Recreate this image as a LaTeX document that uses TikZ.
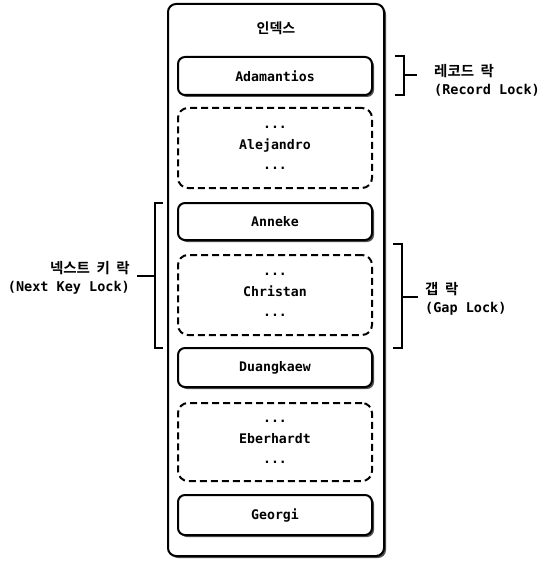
\documentclass[tikz,border=0pt]{standalone}
\usepackage{fontspec}
\setmonofont{DejaVu Sans Mono}
\newfontfamily\krfont{Noto Sans CJK KR}[BoldFont={Noto Sans CJK KR Bold}]
\usetikzlibrary{shadows}
\begin{document}
\begin{tikzpicture}[x=1pt,y=-1pt,
  shad/.style={drop shadow={shadow xshift=2pt,shadow yshift=-2pt,opacity=0.8,fill=black!85}},
  entry/.style={font=\ttfamily\bfseries\fontsize{13.2}{20.5}\selectfont, align=center, inner sep=0pt,
     minimum width=194pt, line width=2pt, line join=round},
  solidbox/.style={entry, draw, fill=white, rounded corners=7pt, shad},
  gapbox/.style={entry, draw, rounded corners=10pt, dash pattern=on 7pt off 4pt},
  brace/.style={line width=2pt, line join=miter},
  lbl/.style={inner sep=0pt, align=left, font=\ttfamily\bfseries\fontsize{13.5}{18}\selectfont},
  krf/.style={}
]
\useasboundingbox (0,0) rectangle (555,572);
\fill[white] (0,0) rectangle (555,572);
% outer index box
\node[draw, line width=2pt, rounded corners=8pt, fill=white, shad, minimum width=216pt, minimum height=552pt, inner sep=0pt] (idx) at (276,280) {};
\node[font=\krfont\bfseries\fontsize{14}{15}\selectfont, inner sep=0pt] (title) at (276,28) {인덱스};
% records
\node[solidbox, minimum height=38pt] (ada) at (275,76) {Adamantios};
\node[gapbox, minimum height=80pt] (ale) at (275,148) {...\\Alejandro\\...};
\node[solidbox, minimum height=37pt] (ann) at (275,221.5) {Anneke};
\node[gapbox, minimum height=80pt] (chr) at (275,295) {...\\Christan\\...};
\node[solidbox, minimum height=39pt] (dua) at (275,367.5) {Duangkaew};
\node[gapbox, minimum height=78pt] (ebe) at (275,442) {...\\Eberhardt\\...};
\node[solidbox, minimum height=40pt] (geo) at (275,515) {Georgi};
% record lock brace
\coordinate (r1) at (395,56);
\coordinate (r2) at (404,56);
\coordinate (r3) at (404,95);
\coordinate (r4) at (395,95);
\coordinate (rm) at (404,75.5);
\coordinate (rt) at (417,75.5);
\draw[brace] (r1) -- (r2) -- (r3) -- (r4);
\draw[brace] (rm) -- (rt);
\node[lbl, anchor=west] (rlab) at (434,80) {{\krfont\bfseries\fontsize{14.5}{15}\selectfont 레코드\hspace{0.45em}락}\\(Record Lock)};
% next key lock brace
\coordinate (n1) at (163,203);
\coordinate (n2) at (155,203);
\coordinate (n3) at (155,348);
\coordinate (n4) at (163,348);
\coordinate (nm) at (155,276);
\coordinate (nt) at (137,276);
\draw[brace] (n1) -- (n2) -- (n3) -- (n4);
\draw[brace] (nm) -- (nt);
\node[lbl, anchor=east, align=right] (nlab) at (130,278) {{\krfont\bfseries\fontsize{14.5}{15}\selectfont 넥스트\hspace{0.45em}키\hspace{0.45em}락}\\(Next Key Lock)};
% gap lock brace
\coordinate (g1) at (393,244);
\coordinate (g2) at (402,244);
\coordinate (g3) at (402,348);
\coordinate (g4) at (393,348);
\coordinate (gm) at (402,297);
\coordinate (gt) at (418,297);
\draw[brace] (g1) -- (g2) -- (g3) -- (g4);
\draw[brace] (gm) -- (gt);
\node[lbl, anchor=west] (glab) at (425,299) {{\krfont\bfseries\fontsize{14.5}{15}\selectfont 갭\hspace{0.45em}락}\\(Gap Lock)};
\end{tikzpicture}
\end{document}
